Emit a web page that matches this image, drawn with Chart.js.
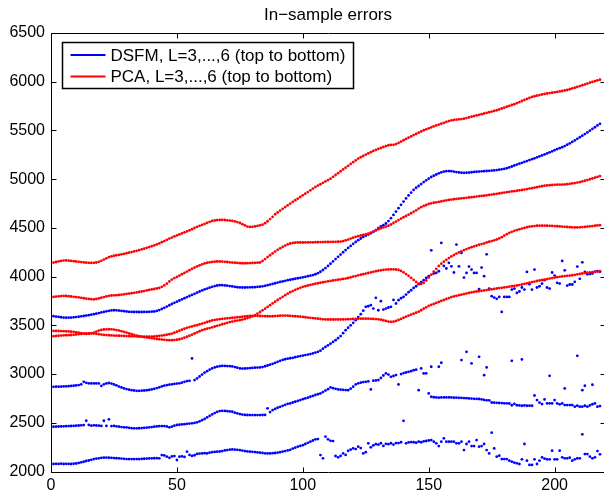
<!DOCTYPE html>
<html>
<head>
<meta charset="utf-8">
<title>In-sample errors</title>
<script src="https://cdn.jsdelivr.net/npm/chart.js@4.4.0/dist/chart.umd.min.js"></script>
<style>
    html, body { margin: 0; padding: 0; background: #fff; overflow: hidden; }
    canvas { display: block; }
</style>
</head>
<body>
<canvas id="chart" width="612" height="493"></canvas>
<script>
// --- DONNEES ---
const titleText = 'In\u2212sample errors';
const legendLabels = ['DSFM, L=3,...,6 (top to bottom)', 'PCA, L=3,...,6 (top to bottom)'];
const xTicks = [0, 50, 100, 150, 200];
const yTicks = [2000, 2500, 3000, 3500, 4000, 4500, 5000, 5500, 6000, 6500];
const sampleIdx = Array.from({ length: 218 }, (_, i) => i + 1);

const pca3 = [
    4144,4150,4156,4161,4165,4166,4164,4161,4158,4155, 4152,4149,4146,4143,4141,4140,4141,4145,4152,4162,
    4175,4188,4200,4208,4214,4219,4224,4229,4234,4240, 4246,4252,4258,4265,4272,4279,4287,4295,4303,4312,
    4321,4330,4341,4353,4365,4377,4390,4401,4412,4423, 4433,4443,4454,4464,4475,4487,4499,4511,4521,4530,
    4541,4552,4562,4571,4576,4580,4582,4582,4581,4578, 4575,4571,4566,4560,4550,4538,4525,4513,4510,4511,
    4515,4520,4526,4533,4548,4568,4590,4614,4640,4659, 4677,4696,4714,4732,4750,4767,4784,4800,4817,4834,
    4851,4868,4886,4903,4920,4934,4948,4962,4977,4991, 5005,5024,5043,5062,5081,5100,5118,5137,5156,5174,
    5192,5211,5225,5238,5251,5264,5277,5290,5300,5310, 5320,5330,5340,5348,5351,5352,5360,5372,5386,5400,
    5413,5426,5439,5452,5464,5477,5490,5502,5512,5522, 5532,5542,5551,5560,5569,5578,5587,5596,5604,5608,
    5611,5614,5617,5621,5627,5634,5641,5647,5654,5660, 5667,5674,5680,5687,5694,5700,5707,5716,5725,5734,
    5743,5752,5761,5770,5780,5791,5802,5813,5823,5834, 5844,5851,5857,5863,5869,5875,5879,5883,5887,5891,
    5895,5900,5905,5910,5915,5923,5931,5938,5946,5955, 5964,5972,5981,5990,5998,6006,6014,6021
];
const pca4 = [
    3792,3795,3798,3800,3802,3801,3799,3796,3793,3790, 3786,3782,3778,3774,3771,3768,3766,3770,3776,3783,
    3790,3797,3803,3806,3808,3810,3812,3815,3818,3822, 3826,3830,3834,3838,3842,3847,3852,3858,3863,3868,
    3873,3878,3884,3895,3910,3928,3950,3970,3985,3997, 4010,4024,4038,4052,4066,4080,4093,4105,4116,4126,
    4135,4142,4147,4151,4153,4155,4155,4154,4152,4150, 4147,4144,4142,4140,4138,4137,4137,4138,4139,4140,
    4141,4142,4145,4160,4180,4200,4219,4238,4257,4275, 4290,4305,4318,4330,4340,4346,4348,4350,4350,4350,
    4351,4351,4352,4352,4353,4353,4354,4354,4355,4355, 4356,4356,4357,4358,4360,4365,4372,4380,4390,4400,
    4408,4415,4422,4428,4434,4440,4450,4462,4474,4486, 4496,4505,4512,4522,4535,4550,4565,4580,4595,4609,
    4622,4636,4650,4665,4680,4698,4713,4725,4735,4745, 4752,4758,4762,4766,4772,4778,4783,4787,4791,4794,
    4797,4800,4803,4806,4809,4812,4815,4818,4821,4825, 4828,4831,4834,4838,4842,4846,4850,4854,4858,4862,
    4866,4870,4874,4877,4881,4885,4889,4893,4898,4903, 4908,4913,4918,4923,4928,4933,4936,4938,4940,4942,
    4943,4944,4944,4946,4949,4952,4956,4960,4965,4970, 4977,4984,4991,4999,5007,5015,5023,5032
];
const pca5 = [
    3443,3443,3442,3441,3440,3439,3437,3435,3432,3428, 3424,3419,3414,3412,3413,3418,3426,3436,3446,3453,
    3457,3459,3460,3459,3456,3451,3446,3440,3433,3425, 3417,3409,3401,3394,3388,3384,3380,3376,3372,3368,
    3364,3360,3357,3354,3351,3349,3348,3348,3349,3352, 3357,3364,3373,3383,3393,3404,3416,3428,3440,3450,
    3459,3466,3472,3480,3488,3495,3503,3511,3518,3526, 3533,3539,3545,3549,3553,3559,3566,3574,3582,3592,
    3605,3620,3637,3654,3671,3689,3707,3725,3742,3760, 3777,3793,3809,3825,3840,3852,3864,3875,3885,3895,
    3902,3909,3915,3921,3927,3932,3937,3942,3947,3952, 3956,3960,3964,3968,3972,3976,3980,3986,3993,4000,
    4006,4013,4019,4025,4031,4037,4043,4049,4055,4060, 4065,4069,4072,4074,4075,4075,4073,4068,4058,4044,
    4026,4008,3988,3966,3945,3929,3925,3935,3960,3990, 4020,4050,4080,4110,4133,4153,4172,4190,4207,4222,
    4236,4248,4260,4272,4283,4293,4302,4311,4319,4327, 4334,4341,4350,4358,4365,4372,4381,4392,4405,4420,
    4435,4449,4460,4470,4478,4485,4493,4500,4507,4512, 4516,4519,4522,4523,4523,4523,4522,4521,4520,4519,
    4517,4515,4513,4511,4509,4507,4506,4505,4505,4506, 4508,4510,4513,4516,4519,4522,4525,4528
];
const pca6 = [
    3389,3391,3393,3395,3397,3398,3399,3401,3403,3406, 3409,3412,3415,3417,3418,3418,3416,3413,3409,3405,
    3402,3400,3398,3396,3395,3394,3393,3392,3391,3390, 3389,3388,3387,3386,3385,3384,3384,3383,3383,3384,
    3386,3389,3392,3395,3399,3404,3409,3415,3424,3434, 3445,3455,3465,3474,3482,3489,3496,3502,3510,3518,
    3526,3534,3542,3550,3555,3559,3563,3566,3569,3572, 3575,3578,3580,3583,3585,3588,3591,3594,3596,3598,
    3598,3597,3596,3595,3594,3593,3592,3593,3595,3597, 3599,3600,3600,3599,3597,3595,3593,3591,3589,3586,
    3583,3580,3577,3574,3571,3568,3565,3562,3561,3560, 3560,3560,3560,3560,3560,3561,3562,3563,3564,3565,
    3566,3567,3568,3568,3568,3568,3567,3566,3564,3562, 3558,3552,3545,3539,3536,3538,3545,3555,3566,3578,
    3589,3600,3610,3620,3630,3640,3655,3670,3685,3700, 3710,3720,3730,3740,3750,3760,3770,3780,3790,3797,
    3803,3809,3815,3821,3827,3833,3839,3843,3847,3851, 3854,3858,3862,3866,3870,3874,3878,3882,3885,3889,
    3893,3897,3901,3905,3909,3913,3919,3925,3931,3937, 3943,3949,3955,3960,3965,3970,3975,3980,3985,3990,
    3994,3998,4002,4005,4008,4011,4014,4018,4023,4028, 4032,4036,4040,4043,4046,4049,4052,4055
];
const dsfm3 = [
    3594,3590,3586,3583,3580,3579,3579,3580,3582,3585, 3588,3592,3596,3600,3604,3609,3614,3620,3626,3632,
    3638,3644,3649,3653,3655,3654,3651,3648,3645,3642, 3639,3638,3637,3637,3637,3637,3638,3638,3639,3640,
    3642,3648,3657,3668,3680,3693,3706,3719,3731,3743, 3755,3767,3779,3790,3801,3812,3823,3835,3847,3858,
    3868,3877,3886,3895,3903,3909,3912,3912,3910,3907, 3903,3899,3895,3891,3889,3888,3888,3889,3890,3891,
    3892,3894,3897,3900,3905,3912,3918,3925,3932,3939, 3945,3951,3957,3963,3968,3973,3978,3983,3988,3993,
    3998,4004,4010,4016,4024,4035,4050,4068,4088,4110, 4132,4156,4180,4203,4226,4250,4272,4294,4315,4336,
    4356,4374,4391,4407,4420,4432,4445,4460,4478,4497, 4515,4528,4545,4570,4600,4633,4667,4702,4737,4770,
    4802,4833,4862,4890,4912,4930,4950,4970,4988,5005, 5022,5035,5048,5060,5070,5078,5082,5083,5082,5078,
    5073,5069,5066,5065,5066,5068,5071,5074,5076,5078, 5080,5082,5084,5086,5088,5090,5093,5097,5101,5106,
    5112,5120,5130,5140,5150,5159,5168,5177,5186,5196, 5205,5214,5224,5234,5244,5254,5264,5275,5286,5298,
    5309,5318,5328,5340,5353,5367,5382,5398,5414,5430, 5446,5463,5480,5498,5516,5533,5551,5568
];
const dsfm4 = [
    2869,2870,2871,2872,2873,2874,2876,2878,2880,2883, 2887,2895,2920,2910,2905,2904,2904,2904,2904,2878,
    2895,2904,2908,2902,2893,2883,2872,2862,2853,2846, 2840,2835,2831,2828,2828,2829,2831,2834,2837,2842,
    2848,2856,2864,2873,2881,2887,2891,2895,2899,2902, 2905,2912,2920,2928,2931,3160,2938,2955,2975,2995,
    3015,3030,3045,3058,3068,3076,3081,3083,3083,3082, 3081,3078,3072,3065,3058,3056,3057,3059,3061,3063,
    3065,3067,3068,3072,3080,3088,3096,3105,3115,3126, 3136,3145,3152,3158,3162,3167,3173,3179,3185,3190,
    3195,3200,3205,3212,3220,3228,3240,3260,3278,3295, 3312,3330,3348,3368,3390,3420,3450,3475,3500,3526,
    3553,3585,3615,3650,3690,3696,3707,3672,3782,3655, 3748,3662,3672,3683,3690,3761,3724,3758,3778,3792,
    3816,3840,3860,3884,3901,3922,3942,3963,3987,4004, 4270,4031,4038,4055,4346,4110,4083,4141,4106,4042,
    4329,4106,4243,3990,4038,4103,4072,4038,4038,3871, 4093,4004,4229,3877,3799,3785,3772,3792,3638,3792,
    3792,3792,3867,3877,3833,3847,3888,3867,4048,3922, 3867,4072,3888,3901,3929,3963,3888,3877,4042,4011,
    3936,3929,4161,4065,3908,3919,3919,3946,4103,3977, 4147,4048,4024,4028,4031,4052,4055,4050
];
const dsfm5 = [
    2459,2460,2462,2463,2464,2465,2466,2467,2468,2470, 2472,2474,2476,2521,2478,2470,2474,2472,2470,2468,
    2521,2468,2535,2466,2468,2464,2460,2456,2453,2452, 2448,2445,2443,2443,2444,2446,2448,2450,2453,2456,
    2460,2463,2465,2466,2466,2462,2453,2460,2470,2477, 2480,2483,2486,2489,2492,2494,2498,2505,2515,2527,
    2540,2555,2570,2586,2600,2612,2620,2623,2622,2619, 2616,2613,2604,2596,2589,2584,2581,2580,2579,2579,
    2579,2579,2579,2580,2581,2648,2610,2630,2642,2654, 2664,2674,2684,2694,2699,2708,2716,2724,2733,2742,
    2750,2758,2767,2776,2785,2793,2801,2815,2830,2845, 2863,2855,2848,2842,2840,2838,2836,2835,2850,2870,
    2894,2905,2912,2918,2920,2925,2842,2932,2935,2938, 2960,2985,3007,2995,2972,2980,2990,2894,3000,3010,
    3016,3023,3030,3040,3045,2835,3058,3006,3007,2801, 2767,2762,2760,2758,2760,2760,2760,2760,2760,2758,
    2758,2756,2755,2754,2752,2750,2748,2746,2745,2744, 2740,2735,2730,2730,2708,2706,2705,2703,2702,2700,
    2700,2698,2680,2695,2680,2678,2675,2678,2675,2676, 2675,2780,2733,2706,2692,2740,2699,2700,2699,2733,
    2699,2689,2699,2682,2682,2682,2682,2665,2675,2665, 2665,2675,2665,2678,2690,2699,2665,2671
];
// points isolés au-dessus de la courbe DSFM L=5 : [indice, erreur]
const dsfm5Extra = [
    [151,3075],[154,3075],[155,3116],[163,3143],[165,3228],[167,3109],[170,3177],[172,2989],[173,3068],
    [183,3136],[187,3150],[198,2982],[204,2853],[209,3187],[211,2835],[212,2880],[215,2890]
];
const dsfm6 = [
    2077,2079,2078,2080,2077,2079,2078,2077,2080,2082, 2088,2094,2100,2108,2113,2120,2127,2133,2135,2140,
    2142,2143,2141,2140,2138,2136,2135,2133,2130,2128, 2127,2127,2128,2128,2128,2129,2131,2133,2134,2135,
    2136,2137,2135,2169,2165,2152,2140,2155,2158,2118, 2152,2156,2150,2203,2170,2160,2167,2180,2184,2186,
    2188,2186,2193,2198,2201,2203,2205,2210,2216,2220, 2224,2227,2225,2222,2220,2215,2210,2206,2203,2202,
    2199,2196,2193,2190,2187,2186,2186,2188,2190,2193, 2198,2204,2210,2216,2222,2235,2245,2255,2262,2270,
    2282,2294,2306,2318,2330,2333,2169,2135,2357,2330, 2315,2312,2159,2145,2160,2186,2170,2212,2225,2238,
    2230,2255,2240,2186,2198,2289,2248,2268,2280,2275, 2290,2262,2284,2280,2290,2276,2292,2292,2300,2520,
    2289,2298,2302,2300,2295,2306,2300,2310,2313,2318, 2323,2306,2289,2261,2306,2340,2306,2306,2306,2306,
    2289,2289,2306,2220,2282,2306,2261,2261,2323,2255, 2261,2282,2220,2186,2398,2237,2152,2162,2128,2128,
    2128,2111,2101,2091,2084,2077,2125,2282,2111,2067, 2067,2125,2077,2111,2145,2132,2125,2125,2214,2125,
    2125,2214,2145,2135,2135,2142,2111,2125,2135,2135, 2381,2179,2179,2152,2135,2145,2210,2176
];

const BLUE = '#0000ff';
const RED = '#ff0000';

function toPoints(vals) {
    return vals.map((v, i) => ({ x: sampleIdx[i], y: v }));
}

function serie(points, color) {
    return {
        data: points,
        backgroundColor: color,
        borderColor: color,
        pointRadius: 1.4,
        pointBorderWidth: 0,
        pointHoverRadius: 1.4,
        showLine: false
    };
}

const datasets = [
    serie(toPoints(pca3), RED),
    serie(toPoints(pca4), RED),
    serie(toPoints(pca5), RED),
    serie(toPoints(pca6), RED),
    serie(toPoints(dsfm3), BLUE),
    serie(toPoints(dsfm4), BLUE),
    serie(toPoints(dsfm5).concat(dsfm5Extra.map(p => ({ x: p[0], y: p[1] }))), BLUE),
    serie(toPoints(dsfm6), BLUE)
];

// --- CADRE, GRADUATIONS, LEGENDE ET TITRE façon MATLAB ---
const matlabFrame = {
    id: 'matlabFrame',
    afterDraw(chart) {
        const { ctx, chartArea: a, scales } = chart;
        const sx = scales.x, sy = scales.y;
        ctx.save();
        ctx.strokeStyle = '#000';
        ctx.lineWidth = 1;

        // boite
        const L = Math.round(a.left) + 0.5, R = Math.round(a.right) + 0.5;
        const T = Math.round(a.top) + 0.5, B = Math.round(a.bottom) + 0.5;
        ctx.beginPath();
        ctx.moveTo(L, T); ctx.lineTo(R, T); ctx.lineTo(R, B); ctx.lineTo(L, B); ctx.closePath();
        ctx.stroke();

        // petites graduations vers l'interieur
        ctx.beginPath();
        xTicks.forEach(v => {
            const px = Math.round(sx.getPixelForValue(v)) + 0.5;
            ctx.moveTo(px, B); ctx.lineTo(px, B - 5);
            ctx.moveTo(px, T); ctx.lineTo(px, T + 5);
        });
        yTicks.forEach(v => {
            const py = Math.round(sy.getPixelForValue(v)) + 0.5;
            ctx.moveTo(L, py); ctx.lineTo(L + 5, py);
            ctx.moveTo(R, py); ctx.lineTo(R - 5, py);
        });
        ctx.stroke();

        // legende
        const lx = L + 11, ly = T + 9, lw = 291, lh = 46;
        ctx.fillStyle = '#fff';
        ctx.fillRect(lx, ly, lw, lh);
        ctx.lineWidth = 1.5;
        ctx.strokeRect(lx, ly, lw, lh);
        const colors = [BLUE, RED];
        ctx.font = '17px "Liberation Sans", Arial, sans-serif';
        ctx.textBaseline = 'middle';
        ctx.textAlign = 'left';
        legendLabels.forEach((txt, i) => {
            const yy = ly + 12.5 + i * 21.5;
            ctx.strokeStyle = colors[i];
            ctx.lineWidth = 2;
            ctx.beginPath();
            ctx.moveTo(lx + 8, yy); ctx.lineTo(lx + 43, yy);
            ctx.stroke();
            ctx.fillStyle = '#000';
            ctx.fillText(txt, lx + 48, yy + 1);
        });

        // titre
        ctx.font = '17px "Liberation Sans", Arial, sans-serif';
        ctx.textAlign = 'center';
        ctx.textBaseline = 'alphabetic';
        ctx.fillStyle = '#000';
        ctx.fillText(titleText, (a.left + a.right) / 2, 20);
        ctx.restore();
    }
};

Chart.defaults.font.family = '"Liberation Sans", Arial, sans-serif';
Chart.defaults.color = '#000';

const ctx = document.getElementById('chart').getContext('2d');
const chartInstance = new Chart(ctx, {
    type: 'scatter',
    data: { datasets: datasets },
    options: {
        responsive: false,
        animation: false,
        devicePixelRatio: 1,
        layout: { padding: { top: 33, right: 7, left: 0, bottom: 0 } },
        plugins: {
            legend: { display: false },
            title: { display: false },
            tooltip: { enabled: false }
        },
        scales: {
            x: {
                type: 'linear',
                min: 0,
                max: 220,
                grid: { display: false, drawTicks: false, tickLength: 0 },
                border: { display: false },
                ticks: { stepSize: 50, font: { size: 16 }, color: '#000', padding: 4, maxRotation: 0 },
                afterBuildTicks: s => { s.ticks = xTicks.map(v => ({ value: v })); },
                afterFit: s => { s.height = 21.5; }
            },
            y: {
                type: 'linear',
                min: 2000,
                max: 6500,
                grid: { display: false, drawTicks: false, tickLength: 0 },
                border: { display: false },
                ticks: { stepSize: 500, font: { size: 16 }, color: '#000', padding: 6, callback: v => String(v) },
                afterBuildTicks: s => { s.ticks = yTicks.map(v => ({ value: v })); },
                afterFit: s => { s.width = 51; }
            }
        }
    },
    plugins: [matlabFrame]
});
</script>
</body>
</html>
